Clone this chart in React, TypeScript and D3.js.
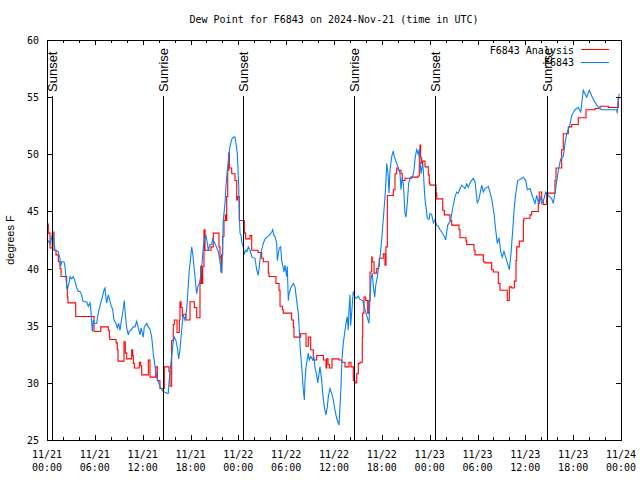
import React from "react";
import * as d3 from "d3";

const TITLE = "Dew Point for F6843 on 2024-Nov-21 (time in UTC)";
const Y_LABEL = "degrees F";
const SERIES_NAMES = ["F6843 Analysis", "F6843"];
const SERIES_COLORS = ["#ff0000", "#0a80f5"];
const Y_TICKS = [25, 30, 35, 40, 45, 50, 55, 60];
const X_TICK_HOURS = [0, 6, 12, 18, 24, 30, 36, 42, 48, 54, 60, 66, 72];
const X_TICK_DATES = ["11/21", "11/21", "11/21", "11/21", "11/22", "11/22", "11/22", "11/22", "11/23", "11/23", "11/23", "11/23", "11/24"];
const X_TICK_TIMES = ["00:00", "06:00", "12:00", "18:00", "00:00", "06:00", "12:00", "18:00", "00:00", "06:00", "12:00", "18:00", "00:00"];
const SUNSET_HOURS = [0.59, 24.62, 48.7];
const SUNRISE_HOURS = [14.51, 38.55, 62.68];

// Analysis (hours since 11/21 00:00 UTC, degrees F)
const analysisHours = [
  0.0, 0.16, 0.38, 0.66, 0.88, 1.13, 1.42, 1.63, 1.76, 2.47, 2.55, 2.63, 3.6, 5.9, 6.74, 7.69, 7.82, 7.9, 8.66, 8.82,
  8.91, 9.66, 9.82, 10.0, 10.62, 10.75, 10.83, 10.95, 11.58, 11.75, 11.88, 12.71, 12.92, 13.64, 13.84, 14.17, 14.71, 15.3, 15.43, 15.64,
  15.84, 15.97, 16.31, 16.6, 16.68, 16.81, 16.97, 17.06, 17.44, 17.94, 18.48, 18.78, 19.19, 19.28, 19.41, 19.53, 19.69, 19.82, 20.57, 20.86,
  21.57, 21.7, 21.83, 21.91, 22.04, 22.2, 22.37, 22.45, 22.54, 22.67, 22.79, 22.87, 23.17, 23.58, 23.8, 23.92, 24.12, 24.75, 24.92, 25.46,
  25.68, 26.47, 26.93, 27.13, 27.76, 27.85, 28.72, 29.1, 29.23, 29.52, 29.64, 30.69, 30.9, 30.98, 31.82, 32.49, 32.78, 33.08, 33.4, 33.83,
  34.66, 35.0, 35.08, 35.25, 35.41, 35.75, 36.63, 36.97, 37.38, 37.88, 38.13, 38.42, 38.63, 38.85, 39.05, 39.26, 39.55, 39.6, 39.76, 39.98,
  40.23, 40.39, 40.52, 40.73, 40.8, 41.02, 41.36, 41.56, 41.68, 42.18, 42.4, 42.52, 42.69, 43.44, 43.65, 43.86, 44.07, 44.4, 44.57, 44.91,
  45.75, 46.54, 46.7, 46.79, 46.87, 47.0, 47.13, 47.42, 47.83, 47.95, 48.04, 48.8, 48.88, 49.64, 49.84, 50.55, 50.76, 51.68, 51.8, 52.56,
  52.65, 53.56, 53.69, 54.73, 54.94, 55.78, 55.98, 56.61, 56.82, 57.74, 57.99, 58.29, 58.62, 58.83, 58.92, 59.24, 59.75, 59.83, 60.59, 60.8,
  61.63, 61.75, 62.05, 62.25, 62.68, 63.72, 63.85, 64.56, 64.76, 65.39, 65.82, 66.64, 67.61, 68.74, 69.37, 70.41, 71.66, 71.8,
];
const analysisValues = [
  43.9, 43.1, 41.8, 43.2, 41.6, 41.2, 40.6, 40.0, 39.3, 38.3, 37.5, 37.0, 35.8, 34.5, 34.9, 34.6, 34.0, 33.8, 33.5, 32.9,
  31.9, 33.6, 32.6, 32.1, 32.9, 32.4, 31.7, 31.3, 31.8, 31.5, 30.7, 32.0, 30.5, 31.4, 30.2, 29.5, 31.4, 31.0, 29.7, 33.7,
  35.1, 35.5, 34.4, 35.5, 37.1, 36.6, 35.8, 36.0, 35.5, 37.1, 36.6, 35.7, 38.7, 40.2, 38.7, 40.2, 43.4, 41.6, 41.9, 43.1,
  41.9, 41.0, 39.7, 41.2, 42.8, 44.2, 44.7, 44.2, 46.3, 48.6, 50.1, 48.8, 48.3, 47.7, 46.0, 46.3, 44.2, 43.1, 42.6, 42.9,
  41.6, 41.4, 40.9, 40.6, 39.6, 39.3, 38.7, 38.1, 36.7, 36.4, 36.1, 35.5, 34.9, 34.0, 34.3, 33.2, 34.0, 32.9, 32.0, 32.4,
  32.0, 31.3, 32.1, 31.6, 31.3, 32.1, 32.0, 31.8, 31.4, 31.8, 31.4, 30.2, 30.0, 30.8, 31.7, 31.8, 34.0, 36.1, 37.5, 37.2,
  36.1, 37.2, 39.7, 41.0, 40.6, 39.6, 40.0, 40.2, 40.9, 41.3, 40.3, 41.9, 46.4, 46.9, 48.3, 48.8, 48.6, 48.3, 47.7, 47.9,
  48.0, 48.1, 50.4, 50.8, 49.7, 49.2, 49.4, 48.9, 48.2, 47.5, 47.3, 46.6, 46.1, 45.1, 44.7, 44.2, 43.8, 43.4, 42.7, 42.4,
  42.1, 41.6, 41.2, 40.6, 40.5, 39.9, 39.7, 38.7, 38.1, 37.2, 38.4, 38.3, 38.9, 40.7, 41.9, 42.4, 44.2, 44.4, 44.7, 45.0,
  45.7, 46.7, 46.0, 45.6, 46.6, 47.7, 48.8, 50.4, 51.8, 52.4, 52.6, 53.2, 53.9, 54.0, 54.2, 54.1, 54.9, 54.9,
];

// Observations
const obsHours = [
  0.0, 0.16, 0.38, 0.66, 0.79, 1.0, 1.38, 1.63, 1.72, 1.84, 2.13, 2.26, 2.38, 2.55, 2.67, 2.76, 2.89, 3.1, 3.3, 3.51,
  3.73, 3.93, 4.14, 4.35, 4.48, 4.68, 4.98, 5.18, 5.39, 5.48, 5.68, 5.81, 5.93, 6.23, 6.31, 6.52, 6.74, 6.94, 7.15, 7.28,
  7.4, 7.49, 7.69, 8.03, 8.24, 8.4, 8.66, 8.82, 8.99, 9.16, 9.32, 9.5, 9.7, 9.82, 10.0, 10.2, 10.32, 10.5, 10.83, 11.04,
  11.25, 11.45, 11.67, 11.79, 12.08, 12.2, 12.51, 12.71, 12.92, 13.13, 13.33, 13.55, 13.76, 13.96, 14.17, 14.39, 14.68, 15.02, 15.22, 15.3,
  15.52, 15.68, 15.84, 15.97, 16.18, 16.39, 16.52, 16.68, 16.81, 17.02, 17.1, 17.31, 17.52, 17.65, 17.85, 17.98, 18.15, 18.28, 18.48, 18.65,
  18.78, 18.9, 19.1, 19.28, 19.48, 19.61, 19.73, 19.94, 20.11, 20.23, 20.45, 20.66, 20.78, 21.07, 21.49, 21.7, 21.91, 21.99, 22.11, 22.33,
  22.45, 22.62, 22.79, 22.95, 23.17, 23.37, 23.58, 23.71, 23.87, 23.96, 24.05, 24.12, 24.21, 24.34, 24.46, 24.62, 24.75, 24.96, 25.09, 25.25,
  25.46, 25.71, 26.09, 26.3, 26.5, 26.63, 26.81, 27.13, 27.35, 27.68, 27.89, 28.19, 28.31, 28.47, 28.6, 28.81, 28.89, 29.01, 29.14, 29.31,
  29.44, 29.73, 29.85, 30.07, 30.14, 30.27, 30.36, 30.57, 30.9, 31.11, 31.32, 31.52, 31.65, 31.74, 31.95, 32.15, 32.28, 32.36, 32.49, 32.78,
  32.9, 33.08, 33.33, 33.49, 33.62, 33.83, 33.96, 34.24, 34.46, 34.58, 34.78, 35.0, 35.16, 35.29, 35.5, 35.71, 35.91, 36.13, 36.34, 36.63,
  36.75, 36.88, 37.0, 37.17, 37.38, 37.51, 37.67, 37.79, 37.88, 38.01, 38.09, 38.26, 38.42, 38.63, 38.85, 39.05, 39.26, 39.6, 39.89, 40.1,
  40.39, 40.52, 40.64, 40.8, 40.93, 41.11, 41.23, 41.43, 41.61, 41.77, 41.86, 41.98, 42.11, 42.27, 42.4, 42.52, 42.61, 42.77, 42.9, 43.02,
  43.24, 43.44, 43.56, 43.86, 44.07, 44.28, 44.4, 44.53, 44.69, 44.91, 45.03, 45.2, 45.37, 45.62, 45.87, 46.03, 46.2, 46.37, 46.57, 46.7,
  46.91, 47.13, 47.2, 47.38, 47.54, 47.7, 47.92, 48.04, 48.26, 48.46, 48.67, 48.88, 49.09, 49.3, 49.51, 49.84, 50.01, 50.14, 50.26, 50.43,
  50.64, 50.89, 51.18, 51.4, 51.6, 51.81, 52.02, 52.43, 52.65, 52.85, 53.06, 53.47, 53.69, 53.98, 54.19, 54.53, 54.73, 54.94, 55.36, 55.78,
  56.07, 56.28, 56.48, 56.7, 56.91, 57.11, 57.32, 57.66, 57.99, 58.2, 58.42, 58.62, 58.83, 59.04, 59.33, 59.75, 60.05, 60.25, 60.59, 61.0,
  61.21, 61.43, 61.63, 61.84, 62.05, 62.25, 62.56, 62.88, 63.31, 63.51, 63.85, 64.14, 64.44, 64.76, 64.98, 65.19, 65.6, 65.82, 66.23, 66.65,
  66.95, 67.07, 67.27, 67.48, 67.7, 68.02, 68.33, 68.61, 68.95, 69.28, 69.58, 71.46, 71.53, 71.58, 71.78,
];
const obsValues = [
  42.6, 42.4, 42.2, 42.9, 43.0, 41.6, 41.5, 40.9, 40.2, 40.6, 40.6, 40.2, 39.1, 38.1, 38.5, 38.7, 39.3, 39.1, 39.3, 38.9,
  38.3, 38.0, 38.0, 37.7, 37.2, 37.1, 37.1, 36.7, 37.0, 36.6, 34.5, 35.5, 35.2, 35.2, 35.6, 36.4, 37.0, 37.5, 38.1, 38.3,
  37.4, 37.0, 37.7, 36.8, 36.4, 35.5, 35.2, 34.8, 35.2, 34.6, 35.4, 36.2, 37.2, 36.0, 34.8, 34.2, 34.5, 34.6, 34.9, 34.9,
  35.4, 34.8, 34.2, 34.8, 34.0, 34.9, 35.2, 34.9, 34.7, 34.0, 32.6, 31.4, 30.5, 30.1, 29.7, 29.4, 29.2, 29.1, 29.1, 30.0,
  31.6, 32.6, 33.6, 34.0, 33.7, 32.9, 32.1, 32.9, 34.0, 35.5, 35.9, 35.5, 36.4, 37.8, 39.9, 40.7, 41.9, 41.3, 39.9, 38.6,
  37.8, 38.4, 38.7, 39.3, 40.7, 41.9, 42.5, 42.9, 42.2, 41.6, 42.1, 42.1, 42.6, 42.2, 41.5, 40.6, 39.6, 41.0, 44.2, 45.7,
  47.2, 48.6, 49.8, 50.7, 51.3, 51.5, 51.5, 50.9, 50.1, 48.6, 47.2, 44.8, 43.1, 42.9, 42.2, 41.9, 41.3, 41.6, 41.5, 41.9,
  41.6, 41.0, 40.9, 39.9, 39.4, 40.2, 41.3, 42.2, 42.6, 42.8, 42.9, 43.2, 43.4, 42.9, 42.8, 42.2, 40.7, 41.3, 41.8, 41.9,
  40.7, 39.7, 40.3, 39.3, 40.2, 37.2, 37.8, 38.3, 38.7, 38.4, 37.2, 36.1, 34.6, 33.2, 31.4, 29.4, 28.5, 30.2, 31.4, 32.6,
  32.0, 32.3, 32.0, 32.3, 31.3, 30.7, 30.0, 31.4, 30.2, 29.1, 27.9, 27.2, 27.9, 28.8, 29.5, 29.1, 28.5, 27.6, 26.9, 26.3,
  27.9, 29.7, 32.1, 33.5, 34.6, 35.2, 35.8, 34.6, 36.4, 37.7, 35.0, 36.5, 38.0, 37.5, 37.4, 37.6, 37.3, 37.2, 36.4, 35.9,
  35.2, 37.5, 39.1, 39.6, 38.5, 37.5, 38.5, 39.3, 40.2, 41.0, 41.6, 42.5, 43.7, 45.1, 46.3, 47.7, 49.2, 48.3, 46.6, 48.6,
  49.8, 50.3, 49.8, 49.2, 48.8, 48.3, 46.9, 47.9, 47.5, 44.8, 44.5, 45.8, 47.5, 48.0, 48.0, 48.6, 49.8, 50.4, 50.0, 50.4,
  48.3, 49.2, 48.6, 46.3, 45.4, 44.4, 44.3, 44.8, 44.7, 44.0, 44.3, 43.8, 43.7, 43.4, 43.2, 42.8, 42.5, 43.2, 43.8, 44.0,
  44.2, 45.3, 46.3, 46.7, 46.6, 47.0, 47.3, 47.0, 47.4, 47.1, 47.5, 47.9, 47.6, 45.7, 46.1, 47.3, 46.7, 47.0, 47.2, 46.1,
  44.8, 43.4, 42.2, 42.7, 41.5, 41.0, 41.5, 40.7, 39.9, 41.3, 43.4, 45.4, 46.7, 47.7, 47.8, 48.0, 47.7, 46.9, 47.0, 46.1,
  45.7, 46.4, 45.8, 46.3, 45.7, 45.9, 46.7, 46.4, 46.1, 45.7, 47.2, 48.6, 49.6, 49.8, 51.0, 51.8, 52.6, 53.4, 53.9, 54.1,
  53.7, 54.4, 55.6, 55.3, 55.0, 55.6, 55.1, 54.7, 54.3, 54.0, 53.9, 53.9, 53.6, 54.4, 55.3,
];

const W = 640;
const H = 480;
const M = { left: 47, right: 19, top: 40, bottom: 40 };
const MONO = "'DejaVu Sans Mono', monospace";
const SANS = "'Liberation Sans', Arial, sans-serif";

export default function App() {
  const x = d3.scaleLinear().domain([0, 72]).range([M.left, W - M.right]);
  const y = d3.scaleLinear().domain([25, 60]).range([H - M.bottom, M.top]);
  const x0 = M.left, x1 = W - M.right, y0 = H - M.bottom, y1 = M.top;

  const analysis = analysisHours.map((h, i) => [h, analysisValues[i]] as [number, number]);
  const obs = obsHours.map((h, i) => [h, obsValues[i]] as [number, number]);

  const stepLine = d3.line<[number, number]>().x(d => x(d[0])).y(d => y(d[1])).curve(d3.curveStepAfter);
  const line = d3.line<[number, number]>().x(d => x(d[0])).y(d => y(d[1]));

  const minorTicks = d3.range(0, 73, 2);
  const sunEvents = [
    ...SUNSET_HOURS.map(h => ({ h, label: "Sunset" })),
    ...SUNRISE_HOURS.map(h => ({ h, label: "Sunrise" })),
  ];

  return (
    <svg width={W} height={H} style={{ position: "absolute", left: 0, top: 0, background: "#fff" }}>
      <rect x={0} y={0} width={W} height={H} fill="#fff" />
      <text x={(x0 + x1) / 2} y={23} textAnchor="middle" fontFamily={MONO} fontSize={10}>{TITLE}</text>

      {/* data */}
      <path d={stepLine(analysis) || ""} fill="none" stroke={SERIES_COLORS[0]} strokeWidth={1.1} />
      <path d={line(obs) || ""} fill="none" stroke={SERIES_COLORS[1]} strokeWidth={1.1} />

      {/* sun lines */}
      {sunEvents.map((s, i) => (
        <g key={i}>
          <line x1={Math.round(x(s.h)) + 0.5} x2={Math.round(x(s.h)) + 0.5} y1={96} y2={y0} stroke="#000" strokeWidth={1} />
          <text transform={`translate(${Math.round(x(s.h)) + 5},92) rotate(-90)`} fontFamily={SANS} fontSize={13} fill="#000">{s.label}</text>
        </g>
      ))}

      {/* frame */}
      <rect x={x0 + 0.5} y={y1 + 0.5} width={x1 - x0} height={y0 - y1} fill="none" stroke="#000" strokeWidth={1} shapeRendering="crispEdges" />

      {/* x ticks */}
      {minorTicks.map(t => {
        const len = t % 6 === 0 ? 5 : 3;
        const px = Math.round(x(t)) + 0.5;
        return (
          <g key={t}>
            <line x1={px} x2={px} y1={y0} y2={y0 - len} stroke="#000" shapeRendering="crispEdges" />
            <line x1={px} x2={px} y1={y1} y2={y1 + len} stroke="#000" shapeRendering="crispEdges" />
          </g>
        );
      })}
      {X_TICK_HOURS.map((t, i) => (
        <g key={t}>
          <text x={x(t)} y={458} textAnchor="middle" fontFamily={MONO} fontSize={10}>{X_TICK_DATES[i]}</text>
          <text x={x(t)} y={471} textAnchor="middle" fontFamily={MONO} fontSize={10}>{X_TICK_TIMES[i]}</text>
        </g>
      ))}

      {/* y ticks */}
      {Y_TICKS.map(v => {
        const py = Math.round(y(v)) + 0.5;
        return (
          <g key={v}>
            <line x1={x0} x2={x0 + 5} y1={py} y2={py} stroke="#000" shapeRendering="crispEdges" />
            <line x1={x1} x2={x1 - 5} y1={py} y2={py} stroke="#000" shapeRendering="crispEdges" />
            <text x={39} y={y(v) + 4} textAnchor="end" fontFamily={MONO} fontSize={10}>{v}</text>
          </g>
        );
      })}
      <text transform={`translate(14,${(y0 + y1) / 2}) rotate(-90)`} textAnchor="middle" fontFamily={SANS} fontSize={11}>{Y_LABEL}</text>

      {/* legend */}
      {SERIES_NAMES.map((name, i) => (
        <g key={name}>
          <text x={574} y={54 + i * 12} textAnchor="end" fontFamily={MONO} fontSize={10}>{name}</text>
          <line x1={581} x2={609} y1={49.5 + i * 13} y2={49.5 + i * 13} stroke={SERIES_COLORS[i]} strokeWidth={1} />
        </g>
      ))}
    </svg>
  );
}
